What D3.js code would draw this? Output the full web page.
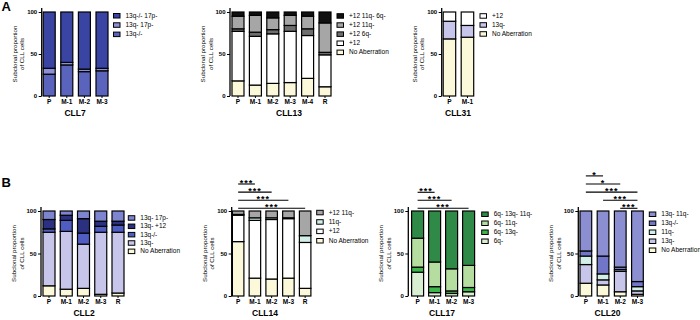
<!DOCTYPE html>
<html>
<head>
<meta charset="utf-8">
<script src="https://cdn.jsdelivr.net/npm/d3@7"></script>
<style>
  body { margin: 0; background: #fff; }
  svg { display: block; font-family: "Liberation Sans", Arial, sans-serif; }
</style>
</head>
<body>
<svg id="fig" width="700" height="320"></svg>
<script>
// ---- data (percent of CLL cells, stacked bottom -> top) ----
var cll7Cats = ['P', 'M-1', 'M-2', 'M-3'];
var cll7Keys = ['13q-/-', '13q- 17p-', '13q-/- 17p-'];
var cll7Values = [[26, 7, 67], [37, 3, 60], [29, 3, 68], [30, 3, 67]];

var cll13Cats = ['P', 'M-1', 'M-2', 'M-3', 'M-4', 'R'];
var cll13Keys = ['No Aberration', '+12', '+12 6q-', '+12 11q-', '+12 11q- 6q-'];
var cll13Values = [[18, 59, 3, 15, 5], [13, 58, 5, 20, 4], [15, 59, 5, 14, 7],
                   [16, 61, 7, 12, 4], [21, 51, 8, 15, 5], [11, 38, 3, 35, 13]];

var cll31Cats = ['P', 'M-1'];
var cll31Keys = ['No Aberration', '13q-', '+12'];
var cll31Values = [[68, 21, 11], [70, 14, 16]];

var cll2Cats = ['P', 'M-1', 'M-2', 'M-3', 'R'];
var cll2Keys = ['No Aberration', '13q-', '13q-/-', '13q- +12', '13q- 17p-'];
var cll2Values = [[12, 63, 4, 11, 10], [8, 68, 13, 6, 5], [9, 52, 13, 17, 9],
                  [2, 73, 7, 6, 12], [3.5, 71.5, 8.5, 4.5, 12]];

var cll14Cats = ['P', 'M-1', 'M-2', 'M-3', 'R'];
var cll14Keys = ['No Aberration', '+12', '11q-', '+12 11q-'];
var cll14Values = [[64, 31, 1, 4], [21, 68, 3, 8], [20, 70, 2, 8], [21, 70, 1, 8], [9, 54, 8, 29]];
var cll14Sig = [['P', 'M-1', '***'], ['P', 'M-2', '***'], ['P', 'M-3', '***'], ['P', 'R', '***']];

var cll17Cats = ['P', 'M-1', 'M-2', 'M-3'];
var cll17Keys = ['6q-', '6q- 13q-', '6q- 11q-', '6q- 13q- 11q-'];
var cll17Values = [[28, 6, 34, 32], [4, 7, 29, 60], [3, 3, 26, 68], [5, 5, 26, 64]];
var cll17Sig = [['P', 'M-1', '***'], ['P', 'M-2', '***'], ['P', 'M-3', '***']];

var cll20Cats = ['P', 'M-1', 'M-2', 'M-3'];
var cll20Keys = ['No Aberration', '13q-', '11q-', '13q-/-', '13q- 11q-'];
var cll20Values = [[15, 22, 10, 6, 47], [13, 6, 7, 21, 53], [5, 24, 2, 3, 66], [2, 4, 5, 6, 83]];
var cll20Sig = [['P', 'M-1', '*'], ['P', 'M-2', '*'], ['P', 'M-3', '***'],
                ['M-1', 'M-3', '***'], ['M-2', 'M-3', '***']];

var yTicks = [0, 50, 100];

// ---- colours ----
var NOAB = '#fcf9da', LAV = '#c7c6ea', CYAN = '#d2f0e8';
var cll7Colors = ['#5b64bd', '#8c90d6', '#3a44a3'];
var cll13Colors = [NOAB, '#ffffff', '#6e6e6e', '#a6a6a6', '#111111'];
var cll31Colors = [NOAB, LAV, '#ffffff'];
var cll2Colors = [NOAB, LAV, '#4f5cc2', '#2b3180', '#7d84d0'];
var cll14Colors = [NOAB, '#ffffff', CYAN, '#a6a6a6'];
var cll17Colors = ['#d8efd1', '#3db54b', '#b4dd9f', '#2f8a47'];
var cll20Colors = [NOAB, LAV, CYAN, '#7176c8', '#8b8fd2'];

var svg = d3.select('#fig');

function drawPanel(p) {
  var g = svg.append('g');
  var n = p.cats.length;
  var gap = p.step - p.barW;
  var x = d3.scaleBand().domain(p.cats)
    .range([p.ax + p.off, p.ax + p.off + n * p.step - gap])
    .paddingInner(gap / p.step).paddingOuter(0);
  var y = d3.scaleLinear().domain([0, 100]).range([p.y0, p.y100]);
  var bw = x.bandwidth();

  var rows = p.cats.map(function(c, i) { return {cat: c, vals: p.values[i]}; });
  var series = d3.stack().keys(d3.range(p.keys.length))
    .value(function(d, k) { return d.vals[k]; })(rows);

  g.selectAll('g.layer').data(series).enter().append('g')
    .attr('fill', function(s) { return p.colors[s.key]; })
    .selectAll('rect').data(function(s) { return s; }).enter().append('rect')
    .attr('x', function(d) { return x(d.data.cat); })
    .attr('y', function(d) { return y(d[1]); })
    .attr('width', bw)
    .attr('height', function(d) { return y(d[0]) - y(d[1]); })
    .attr('stroke', '#000').attr('stroke-width', 1.2);

  // y axis
  var ya = g.append('g').attr('transform', 'translate(' + p.ax + ',0)')
    .call(d3.axisLeft(y).tickValues(yTicks).tickSize(3).tickPadding(1.5).tickSizeOuter(0));
  ya.select('.domain').remove();
  ya.selectAll('line').attr('stroke', '#000').attr('stroke-width', 1);
  ya.selectAll('text').attr('font-size', 6).attr('font-weight', 'bold').attr('fill', '#000');
  g.append('line').attr('x1', p.ax).attr('x2', p.ax)
    .attr('y1', p.y0).attr('y2', p.y100 - 4)
    .attr('stroke', '#000').attr('stroke-width', 1.3);

  // x category ticks and labels
  g.selectAll('line.xt').data(p.cats).enter().append('line')
    .attr('x1', function(c) { return x(c) + bw / 2; })
    .attr('x2', function(c) { return x(c) + bw / 2; })
    .attr('y1', p.y0).attr('y2', p.y0 + 2)
    .attr('stroke', '#000').attr('stroke-width', 1);
  g.selectAll('text.xl').data(p.cats).enter().append('text')
    .attr('x', function(c) { return x(c) + bw / 2; })
    .attr('y', p.y0 + 7.5)
    .attr('text-anchor', 'middle').attr('font-size', 6.5).attr('font-weight', 'bold')
    .text(function(c) { return c; });

  // title
  g.append('text').attr('x', p.titleX).attr('y', p.y0 + 20)
    .attr('text-anchor', 'middle').attr('font-size', 8.5).attr('font-weight', 'bold')
    .text(p.title);

  // y label
  var cy = (p.y0 + p.y100) / 2;
  [['Subclonal proportion', -25], ['of CLL cells', -17.5]].forEach(function(l) {
    g.append('text')
      .attr('transform', 'translate(' + (p.ax + l[1]) + ',' + cy + ') rotate(-90)')
      .attr('text-anchor', 'middle').attr('font-size', 6.2).text(l[0]);
  });

  // legend, top key first
  var order = d3.range(p.keys.length).reverse();
  order.forEach(function(k, j) {
    var ly = p.legY + j * p.legDy;
    g.append('rect').attr('x', p.legX).attr('y', ly - 2).attr('width', 6.5).attr('height', 4.5)
      .attr('fill', p.colors[k]).attr('stroke', '#000').attr('stroke-width', 1);
    g.append('text').attr('x', p.legX + 12).attr('y', ly + 2.3)
      .attr('font-size', 6.5).text(p.keys[k]);
  });

  // significance brackets
  if (p.sig) {
    var levels = p.sig.length;
    p.sig.forEach(function(s, i) {
      var ly = p.sigBase - (levels - 1 - i) * p.sigDy;
      var x1 = x(s[0]) + bw / 2, x2 = x(s[1]) + bw / 2;
      g.append('line').attr('x1', x1).attr('x2', x2).attr('y1', ly).attr('y2', ly)
        .attr('stroke', '#000').attr('stroke-width', 1.1);
      g.append('text').attr('x', (x1 + x2) / 2).attr('y', ly + 2)
        .attr('text-anchor', 'middle').attr('font-size', 9).attr('font-weight', 'bold')
        .attr('letter-spacing', 1).text(s[2]);
    });
  }
}

var A0 = 96, A100 = 12, B0 = 296, B100 = 211;

drawPanel({cats: cll7Cats, keys: cll7Keys, values: cll7Values, colors: cll7Colors, title: 'CLL7',
  ax: 41.7, off: 1.5, step: 17.6, barW: 12, y0: A0, y100: A100, titleX: 75,
  legX: 113.5, legY: 15.5, legDy: 9.3});
drawPanel({cats: cll13Cats, keys: cll13Keys, values: cll13Values, colors: cll13Colors, title: 'CLL13',
  ax: 230, off: 2, step: 17.4, barW: 12, y0: A0, y100: A100, titleX: 289,
  legX: 337, legY: 15.7, legDy: 9.1});
drawPanel({cats: cll31Cats, keys: cll31Keys, values: cll31Values, colors: cll31Colors, title: 'CLL31',
  ax: 441.7, off: 1.5, step: 18, barW: 12.5, y0: A0, y100: A100, titleX: 458,
  legX: 480, legY: 15.7, legDy: 9});
drawPanel({cats: cll2Cats, keys: cll2Keys, values: cll2Values, colors: cll2Colors, title: 'CLL2',
  ax: 41, off: 2, step: 17.25, barW: 12, y0: B0, y100: B100, titleX: 84,
  legX: 128.3, legY: 217.7, legDy: 8.35});
drawPanel({cats: cll14Cats, keys: cll14Keys, values: cll14Values, colors: cll14Colors, title: 'CLL14',
  ax: 231.7, off: 0.7, step: 16.75, barW: 11.5, y0: B0, y100: B100, titleX: 265,
  legX: 316.7, legY: 212.3, legDy: 9.4, sig: cll14Sig, sigBase: 208.3, sigDy: 8.1});
drawPanel({cats: cll17Cats, keys: cll17Keys, values: cll17Values, colors: cll17Colors, title: 'CLL17',
  ax: 408.3, off: 3.3, step: 17, barW: 12, y0: B0, y100: B100, titleX: 442,
  legX: 481.7, legY: 214, legDy: 9, sig: cll17Sig, sigBase: 208.3, sigDy: 8});
drawPanel({cats: cll20Cats, keys: cll20Keys, values: cll20Values, colors: cll20Colors, title: 'CLL20',
  ax: 578.3, off: 1.7, step: 17.2, barW: 11.7, y0: B0, y100: B100, titleX: 607.5,
  legX: 649.3, legY: 214, legDy: 9, sig: cll20Sig, sigBase: 208.3, sigDy: 8.1});

svg.append('text').attr('x', 1.5).attr('y', 11).attr('font-size', 13).attr('font-weight', 'bold').text('A');
svg.append('text').attr('x', 1.5).attr('y', 186.5).attr('font-size', 13).attr('font-weight', 'bold').text('B');
</script>
</body>
</html>
